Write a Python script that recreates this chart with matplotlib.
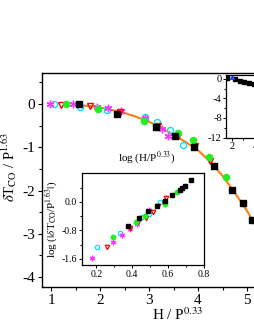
import matplotlib
matplotlib.use("Agg")
import matplotlib.pyplot as plt

plt.rcParams['font.family'] = ['Liberation Serif', 'DejaVu Serif']
plt.rcParams['mathtext.fontset'] = 'stix'

# ---- main panel data (H/P^0.33, dT/P^1.63) ----
sq_x = [1.57, 2.35, 3.14, 3.53, 3.92, 4.33, 4.69, 4.92, 5.10]
sq_y = [-0.01, -0.23, -0.53, -0.74, -0.99, -1.43, -1.99, -2.29, -2.68]
gr_x = [1.31, 1.96, 2.90, 3.59, 3.90, 4.22, 4.57]
gr_y = [0.0, -0.12, -0.39, -0.67, -0.83, -1.22, -1.68]
tri_x = [1.20, 1.80, 2.41, 3.19, 3.59, 3.94, 4.24]
tri_y = [-0.02, -0.05, -0.18, -0.51, -0.74, -0.97, -1.32]
cy_x = [1.06, 1.59, 2.14, 2.92, 3.16, 3.43, 3.69]
cy_y = [0.0, -0.07, -0.14, -0.30, -0.42, -0.60, -0.95]
st_x = [0.97, 1.45, 1.94, 2.17, 2.43, 2.92, 3.27, 3.39]
st_y = [0.0, 0.0, -0.07, -0.10, -0.16, -0.33, -0.58, -0.74]
fit_x = [1.57, 1.8, 2.0, 2.25, 2.5, 2.75, 3.0, 3.25, 3.5, 3.75, 4.0, 4.25, 4.5, 4.75, 5.0, 5.25, 5.4]
fit_y = [-0.03, -0.05, -0.08, -0.14, -0.21, -0.30, -0.41, -0.55, -0.71, -0.88, -1.07, -1.33, -1.66, -2.05, -2.47, -2.95, -3.25]

# ---- log inset data ----
lsq_x = [0.375, 0.44, 0.49, 0.54, 0.583, 0.62, 0.666, 0.68, 0.693, 0.726]
lsq_y = [-0.67, -0.45, -0.25, -0.11, 0.03, 0.20, 0.34, 0.39, 0.45, 0.62]
lgr_x = [0.293, 0.42, 0.47, 0.583, 0.65]
lgr_y = [-0.98, -0.56, -0.39, -0.06, 0.28]
ltr_x = [0.26, 0.386, 0.43, 0.474, 0.518, 0.545, 0.578, 0.59]
ltr_y = [-1.26, -0.73, -0.56, -0.45, -0.28, -0.11, -0.03, 0.11]
lcy_x = [0.205, 0.33, 0.452, 0.496, 0.556]
lcy_y = [-1.26, -0.87, -0.42, -0.34, 0.0]
lst_x = [0.178, 0.293, 0.342, 0.386, 0.425, 0.496]
lst_y = [-1.57, -1.12, -0.93, -0.76, -0.62, -0.22]

# ---- small top-right inset ----
in2_x = [1.6, 2.3, 2.7, 3.1, 3.5, 3.9, 4.3]
in2_y = [0.2, 0.0, -0.4, -0.6, -0.8, -1.0, -1.3]
in2_tri_x = [2.0]
in2_tri_y = [0.3]
in2_fit_x = [1.6, 2.3, 2.7, 3.1, 3.5, 3.9, 4.3]
in2_fit_y = [0.0, -0.1, -0.3, -0.55, -0.8, -1.05, -1.35]

W, H = 255, 330
fig = plt.figure(figsize=(W / 100, H / 100), dpi=100)

def frac(l, r, t, b):
    return [l / W, (H - b) / H, (r - l) / W, (b - t) / H]

orange = '#ff7f0e'
# main axes
ax = fig.add_axes(frac(42, 276.4, 73, 287))
ax.plot(fit_x, fit_y, color=orange, lw=1.5, zorder=2)
ms = 4.4
ax.plot(cy_x, cy_y, 'o', mfc='none', mec='#00e5ff', mew=1.0, ms=ms, ls='none', zorder=3)
ax.plot(st_x, st_y, ls='none', marker=(6, 2, 0), color='#ff33ff', ms=ms + 1, mew=1.0, zorder=3)
ax.plot(tri_x, tri_y, 'v', mfc='none', mec='#ff0000', mew=1.0, ms=ms, ls='none', zorder=3)
ax.plot(gr_x, gr_y, 'o', color='#22ee22', ms=ms, ls='none', zorder=3)
ax.plot(sq_x, sq_y, 's', color='black', ms=ms - 0.4, ls='none', zorder=3)
ax.set_xlim(0.816, 5.6)
ax.set_ylim(-4.23, 0.716)
ax.set_xticks([1, 2, 3, 4, 5])
ax.set_xticks([1.5, 2.5, 3.5, 4.5, 5.5], minor=True)
ax.set_yticks([0, -1, -2, -3, -4])
ax.set_yticks([0.5, -0.5, -1.5, -2.5, -3.5], minor=True)
ax.set_yticklabels(['0', '-1', '-2', '-3', '-4'])
ax.tick_params(direction='out', labelsize=11, length=3, width=0.8, pad=2)
ax.tick_params(which='minor', direction='out', length=2, width=0.8)
for s in ax.spines.values():
    s.set_linewidth(1.0)
ax.set_xlabel(r'H / P$^{0.33}$', fontsize=11)
ax.xaxis.set_label_coords(0.58, -0.09)
ax.set_ylabel(r'$\delta$T$_{\rm CO}$ / P$^{1.63}$', fontsize=10.5)
ax.yaxis.set_label_coords(-0.1, 0.56)

# log inset
ax1 = fig.add_axes(frac(82, 204, 173, 265))
s2 = 3.2
ax1.plot(lcy_x, lcy_y, 'o', mfc='none', mec='#00e5ff', mew=0.9, ms=s2, ls='none')
ax1.plot(lst_x, lst_y, ls='none', marker=(6, 2, 0), color='#ff33ff', ms=s2 + 0.8, mew=0.9)
ax1.plot(ltr_x, ltr_y, 'v', mfc='none', mec='#ff0000', mew=0.9, ms=s2, ls='none')
ax1.plot(lgr_x, lgr_y, 'o', color='#22ee22', ms=s2, ls='none')
ax1.plot(lsq_x, lsq_y, 's', color='black', ms=s2 - 0.4, ls='none')
ax1.set_xlim(0.12, 0.8)
ax1.set_ylim(-1.77, 0.81)
ax1.set_xticks([0.2, 0.4, 0.6, 0.8])
ax1.set_xticks([0.3, 0.5, 0.7], minor=True)
ax1.set_yticks([0.0, -0.8, -1.6])
ax1.set_yticks([0.4, -0.4, -1.2], minor=True)
ax1.set_yticklabels(['0.0', '-0.8', '-1.6'])
ax1.tick_params(direction='out', labelsize=7, length=2, width=0.7, pad=1.5)
ax1.tick_params(which='minor', direction='out', length=1.5, width=0.7)
for s in ax1.spines.values():
    s.set_linewidth(0.9)
ax1.text(0.53, 1.17, r'log (H/P$^{0.33}$)', transform=ax1.transAxes, fontsize=8,
         ha='center', va='center')
ax1.set_ylabel(r'log ($|\delta$T$_{\rm CO}$/P$^{1.63}|$)', fontsize=8, labelpad=1)

# small top-right inset
ax2 = fig.add_axes(frac(226, 278, 75, 137.5))
ax2.plot(in2_fit_x, in2_fit_y, color='#3355ff', lw=1.0)
ax2.plot(in2_fit_x, in2_fit_y, color=orange, lw=1.2)
ax2.plot(in2_x, in2_y, 's', color='black', ms=2.6, ls='none')
ax2.plot(in2_tri_x, in2_tri_y, '^', color='#2244ff', ms=2.6, ls='none')
ax2.set_xlim(1.5, 6)
ax2.set_ylim(-12, 0.8)
ax2.set_xticks([2, 4, 6])
ax2.set_xticks([3, 5], minor=True)
ax2.set_yticks([0, -4, -8, -12])
ax2.set_yticks([-2, -6, -10], minor=True)
ax2.set_yticklabels(['0', '-4', '-8', '-12'])
ax2.tick_params(direction='out', labelsize=7.5, length=2, width=0.7, pad=1)
ax2.tick_params(which='minor', direction='out', length=1.5, width=0.7)
for s in ax2.spines.values():
    s.set_linewidth(0.9)

fig.savefig('out.png', dpi=100)
